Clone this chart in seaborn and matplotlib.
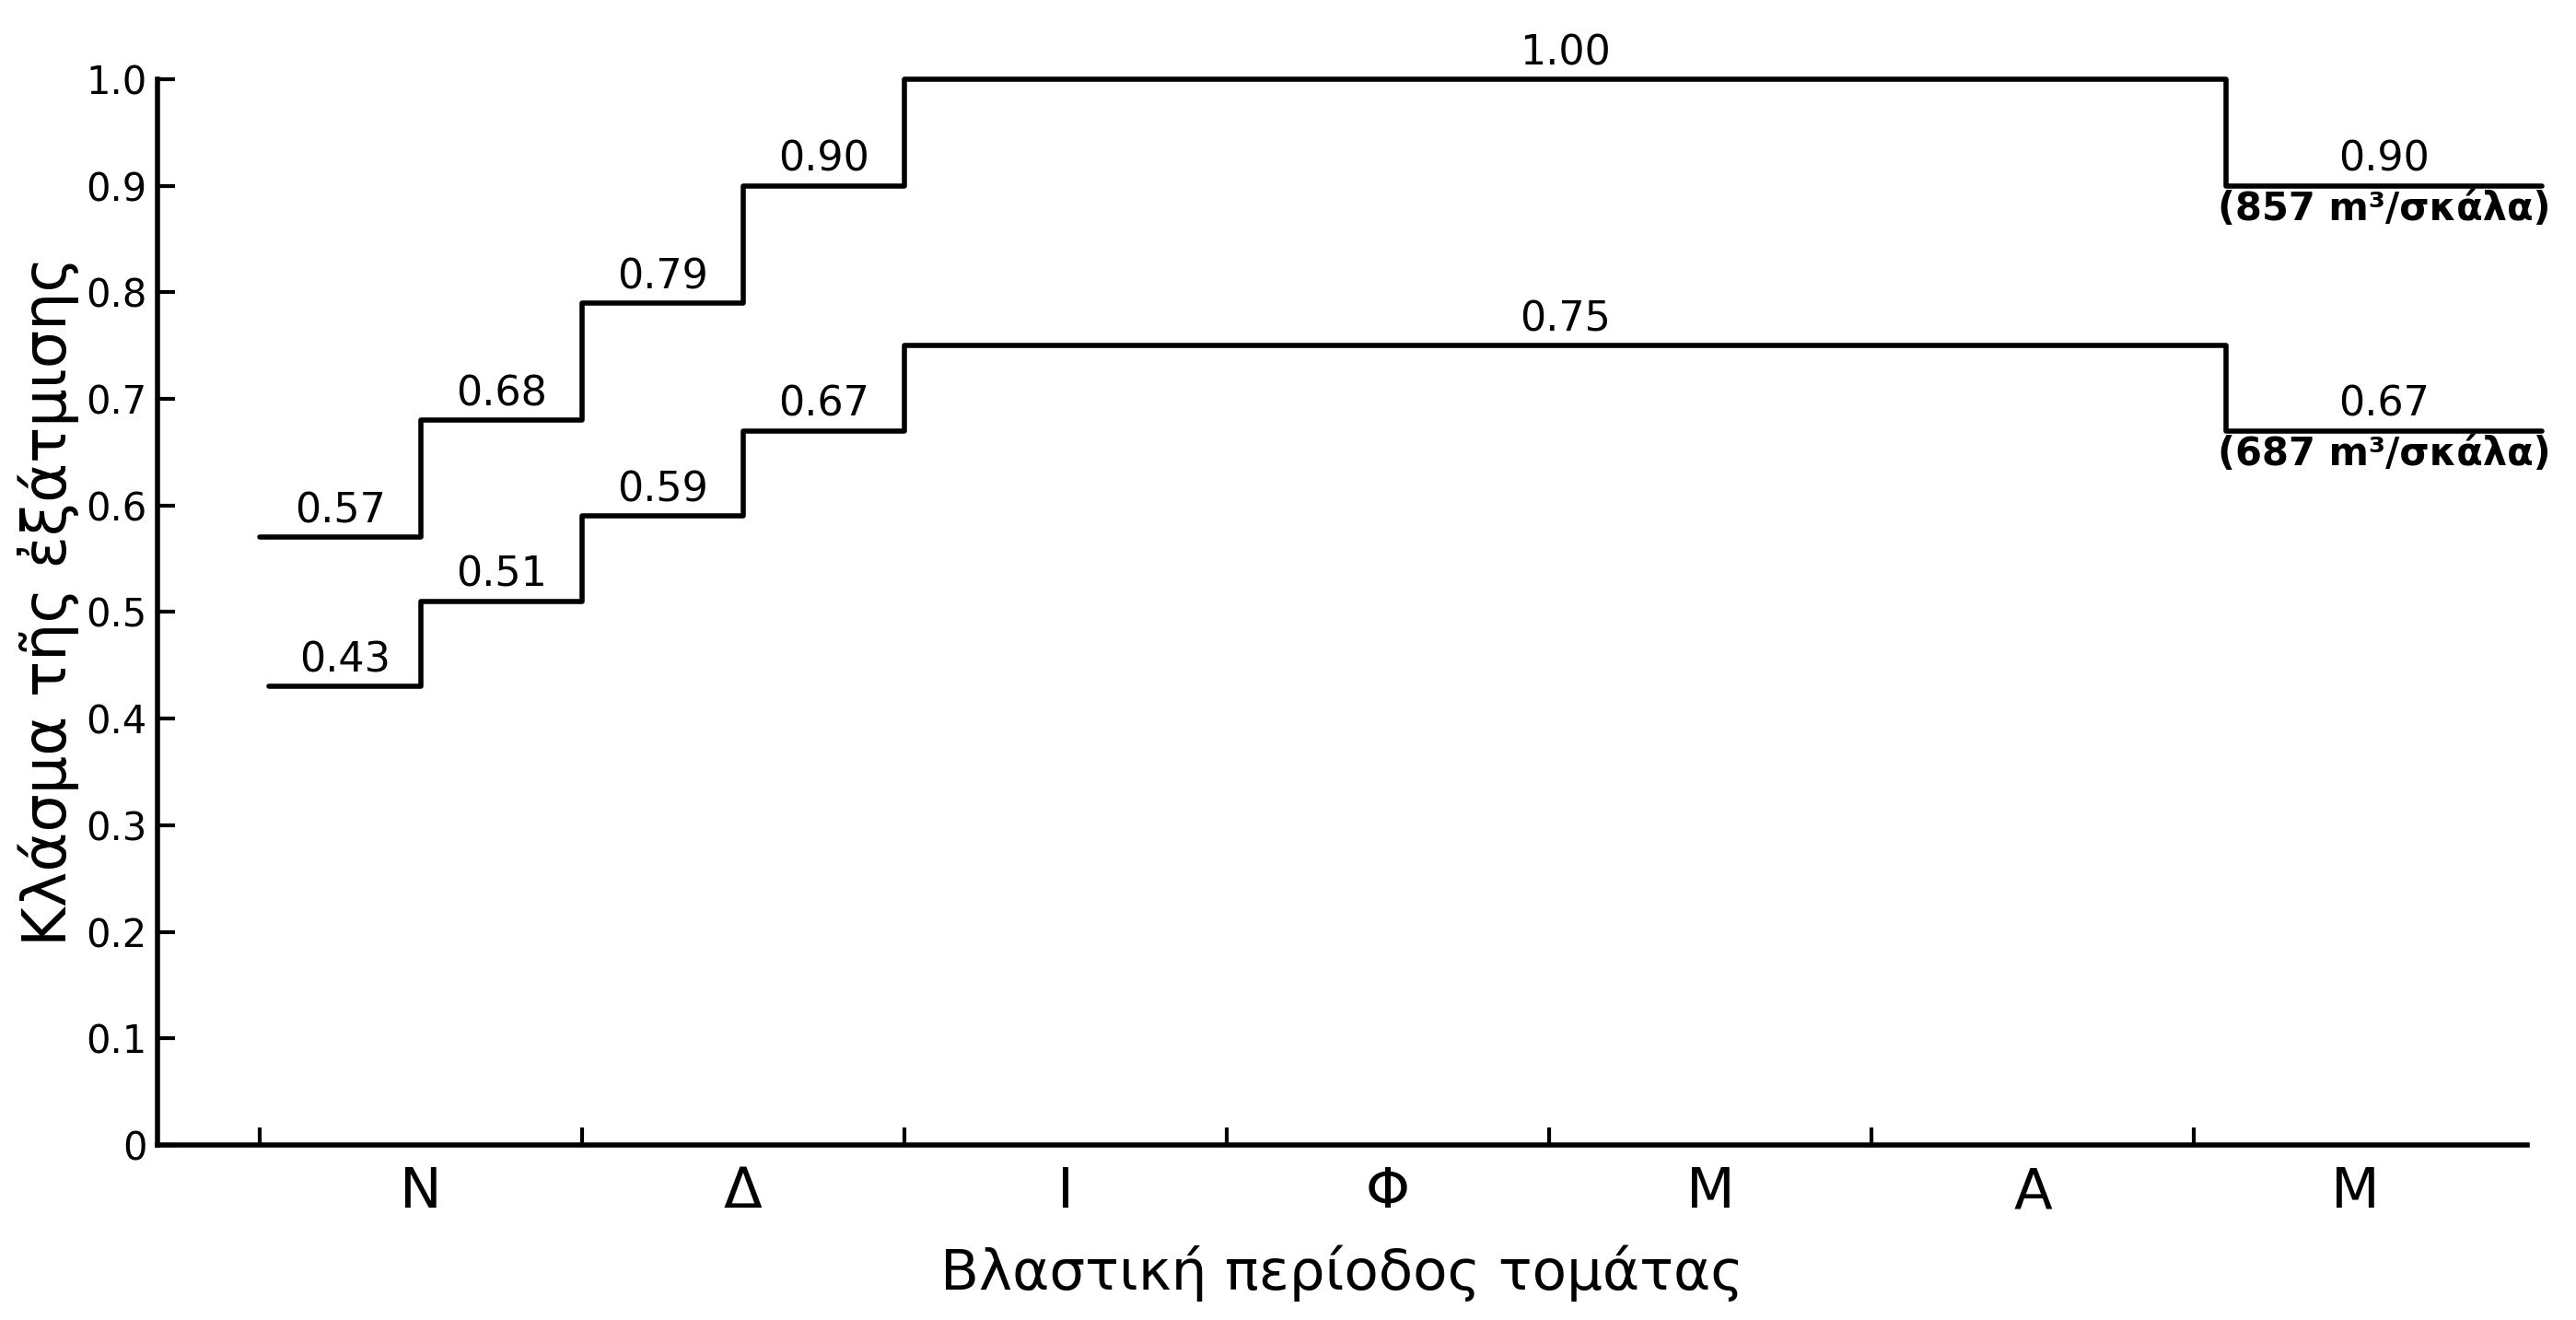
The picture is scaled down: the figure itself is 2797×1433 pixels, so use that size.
import matplotlib
matplotlib.use('Agg')
import matplotlib.pyplot as plt
import pandas as pd
import seaborn as sns

# Growing season of tomato, months from November onwards
months = ['Ν', 'Δ', 'Ι', 'Φ', 'Μ', 'Α', 'Μ']

# step edges (in months from start of November) and evaporation fractions
upper_edges = [0.0, 0.5, 1.0, 1.5, 2.0, 6.1, 7.08]
upper_values = [0.57, 0.68, 0.79, 0.90, 1.00, 0.90]
upper_note = '(857 m³/σκάλα)'

lower_edges = [0.03, 0.5, 1.0, 1.5, 2.0, 6.1, 7.08]
lower_values = [0.43, 0.51, 0.59, 0.67, 0.75, 0.67]
lower_note = '(687 m³/σκάλα)'

y_ticks = [0, 0.1, 0.2, 0.3, 0.4, 0.5, 0.6, 0.7, 0.8, 0.9, 1.0]
y_tick_labels = ['0', '0.1', '0.2', '0.3', '0.4', '0.5', '0.6', '0.7', '0.8', '0.9', '1.0']

sns.set_theme(style='ticks')
plt.rcParams['font.family'] = ['DejaVu Sans']

fig = plt.figure(figsize=(27.97, 14.33), dpi=100)
ax = fig.add_axes([0.0611, 0.1326, 0.9200, 0.8074])


def draw_steps(edges, values, note):
    df_step = pd.DataFrame({'x': edges, 'y': values + [values[-1]]})
    sns.lineplot(data=df_step, x='x', y='y', drawstyle='steps-post', color='black',
                 linewidth=4, estimator=None, ax=ax, clip_on=False)
    for i, v in enumerate(values):
        mid = (edges[i] + edges[i + 1]) / 2
        ax.annotate(f'{v:.2f}', (mid, v), xytext=(0, 5), textcoords='offset points',
                    ha='center', va='bottom', fontsize=32, color='black')
    # note under the last segment
    mid = (edges[-2] + edges[-1]) / 2
    ax.annotate(note, (mid, values[-1]), xytext=(0, -3), textcoords='offset points',
                ha='center', va='top', fontsize=30, fontweight='bold', color='black',
                annotation_clip=False)


draw_steps(upper_edges, upper_values, upper_note)
draw_steps(lower_edges, lower_values, lower_note)

ax.set_xlim(-0.317, 7.034)
ax.set_ylim(0, 1.0)

ax.set_xticks(range(7), labels=[])
ax.set_xticks([i + 0.5 for i in range(7)], labels=months, minor=True)
ax.tick_params(axis='x', which='major', direction='in', length=14, width=3, color='black')
ax.tick_params(axis='x', which='minor', length=0, pad=16, labelsize=44, labelcolor='black')

ax.set_yticks(y_ticks, labels=y_tick_labels)
ax.tick_params(axis='y', direction='in', length=14, width=3, pad=8, labelsize=30,
               color='black', labelcolor='black')

sns.despine(ax=ax)
for side in ['left', 'bottom']:
    ax.spines[side].set_linewidth(4)
    ax.spines[side].set_color('black')

ax.set_xlabel('Βλαστική περίοδος τομάτας', fontsize=44, labelpad=20, color='black')
ax.set_ylabel('Κλάσμα τῆς ἐξάτμισης', fontsize=47, color='black')
ax.yaxis.set_label_coords(-0.033, 0.51)

fig.savefig('out.png', dpi=100)
